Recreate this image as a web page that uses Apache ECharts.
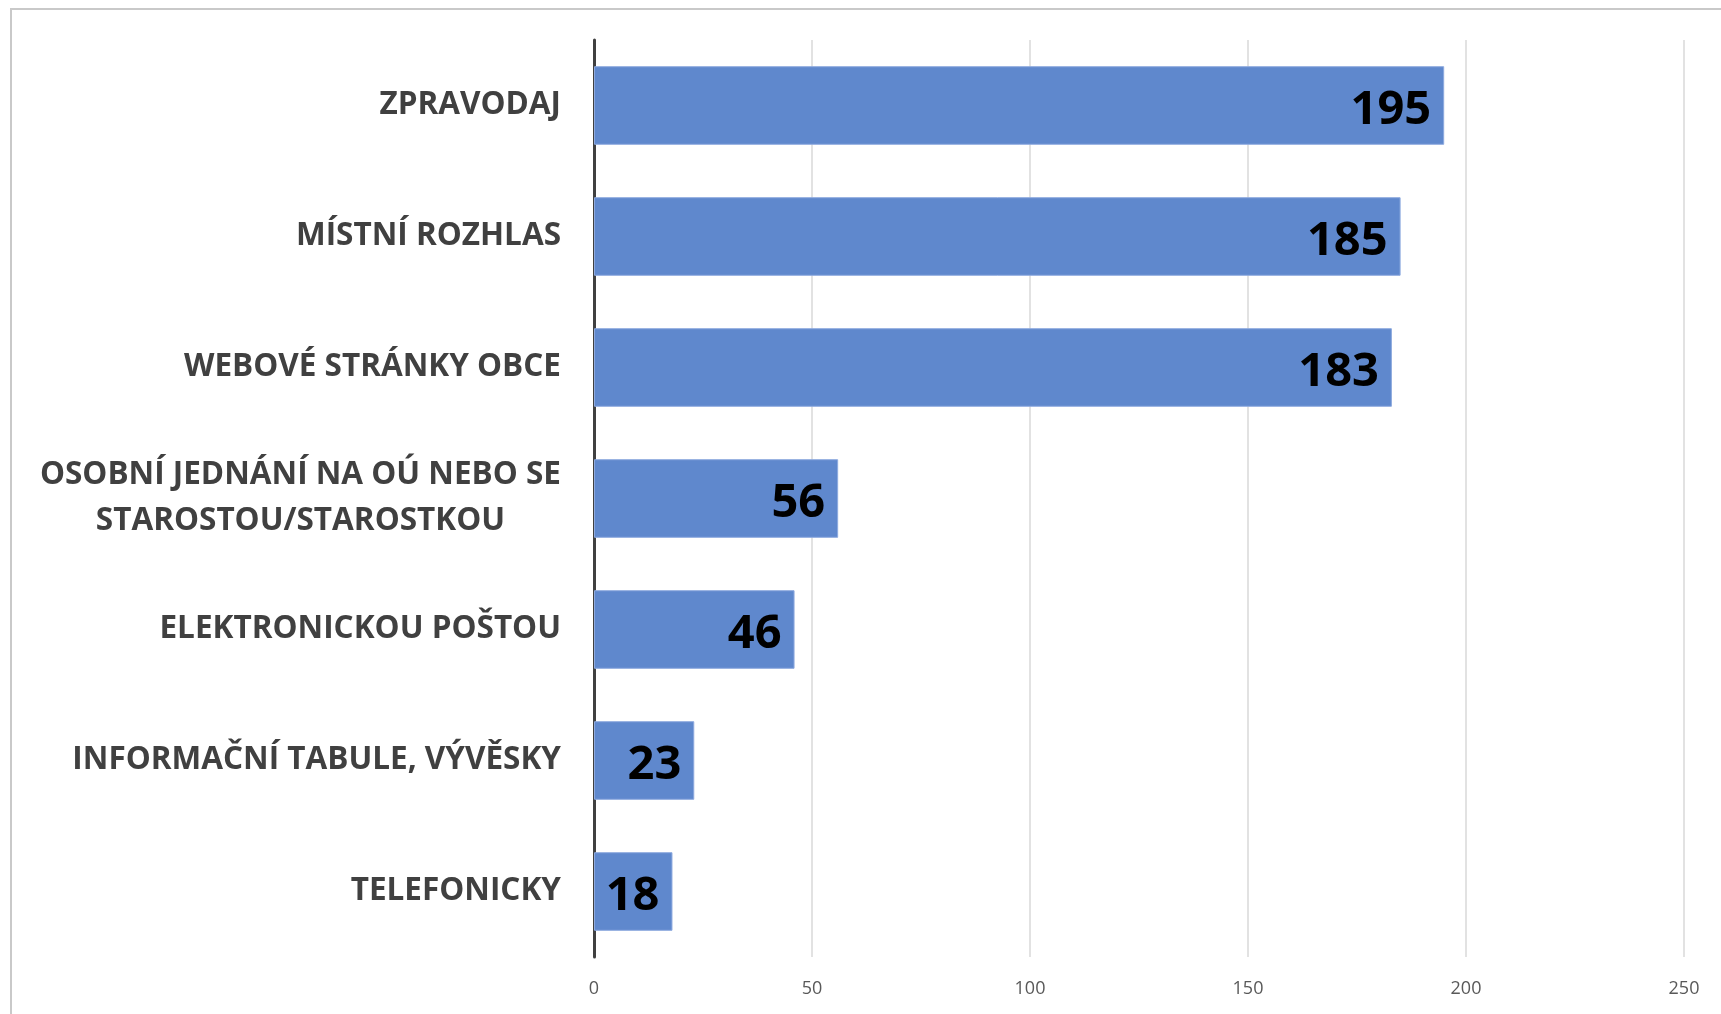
<!DOCTYPE html>
<html>
<head>
<meta charset="utf-8">
<script src="https://cdn.jsdelivr.net/npm/echarts@6/dist/echarts.min.js"></script>
<style>
  html, body { margin: 0; padding: 0; background: #fff; }
  #chart { width: 1721px; height: 1014px; }
</style>
</head>
<body>
<div id="chart"></div>
<script>
// kategorie odshora dolu
var categories = [
  'ZPRAVODAJ',
  'MÍSTNÍ ROZHLAS',
  'WEBOVÉ STRÁNKY OBCE',
  'OSOBNÍ JEDNÁNÍ NA OÚ NEBO SE\nSTAROSTOU/STAROSTKOU',
  'ELEKTRONICKOU POŠTOU',
  'INFORMAČNÍ TABULE, VÝVĚSKY',
  'TELEFONICKY'
];
var values = [195, 185, 183, 56, 46, 23, 18];
var xTicks = [0, 50, 100, 150, 200, 250];

var Chart = echarts.init(document.getElementById('chart'));

var catFont = {
  color: '#404040',
  fontSize: 31.5,
  fontWeight: 'bold',
  fontFamily: 'Open Sans',
  lineHeight: 46
};

var option = {
  animation: false,
  graphic: [{
    // ramecek oblasti grafu
    type: 'rect',
    shape: { x: 11, y: 9, width: 1800, height: 1100 },
    style: { fill: 'none', stroke: '#c9c9c9', lineWidth: 2 },
    silent: true
  }],
  grid: {
    left: 594,
    right: 37,
    top: 40,
    bottom: 57,
    containLabel: false
  },
  xAxis: {
    type: 'value',
    min: xTicks[0],
    max: xTicks[xTicks.length - 1],
    interval: 50,
    axisLine: { show: false },
    axisTick: { show: false },
    axisLabel: {
      margin: 23,
      color: '#595959',
      fontSize: 18,
      fontFamily: 'Open Sans'
    },
    splitLine: { lineStyle: { color: '#d9d9d9', width: 1.5 } }
  },
  yAxis: {
    type: 'category',
    inverse: true,
    data: categories,
    axisLine: { show: true, lineStyle: { color: '#404040', width: 3 } },
    axisTick: { show: false },
    axisLabel: Object.assign({
      margin: 33,
      align: 'right',
      // dvouradkove popisky jsou zarovnane na stred
      formatter: function (val) {
        return val.split('\n').map(function (s) { return '{c|' + s + '}'; }).join('\n');
      },
      rich: {
        c: Object.assign({ align: 'center' }, catFont)
      }
    }, catFont)
  },
  series: [{
    type: 'bar',
    data: values,
    barCategoryGap: '40%',
    itemStyle: {
      color: '#5f88cd',
      borderColor: '#8eaadf',
      borderWidth: 1
    },
    label: {
      show: true,
      position: 'insideRight',
      distance: 13,
      offset: [0, 5],
      color: '#000',
      fontSize: 47,
      fontWeight: 'bold',
      fontFamily: 'Open Sans'
    }
  }]
};

Chart.setOption(option);
</script>
</body>
</html>
